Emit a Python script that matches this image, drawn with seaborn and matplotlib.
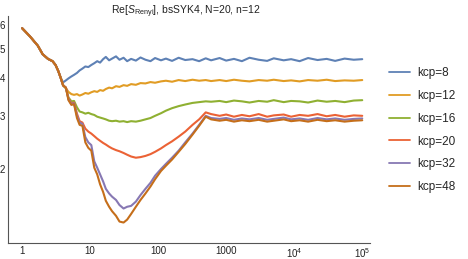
import pandas as pd
import matplotlib
matplotlib.use("Agg")
import matplotlib.pyplot as plt
import matplotlib.ticker as mticker
import seaborn as sns

# time grid
t = [1, 1.3, 1.7, 2, 2.4, 2.8, 3.1, 3.4, 3.7,
     4, 4.4, 4.8, 5.3, 5.8, 6.4, 7, 7.7, 8.5, 9.4, 10.4, 11.5, 12.7, 14, 15.5, 17, 19, 21, 24, 27, 31, 35,
     40, 47, 55, 65, 77, 90, 110, 130, 160, 200, 250, 320, 400, 500, 600,
     800, 1000, 1300, 1700, 2200, 3000, 4000, 5000, 7000, 9000, 12000, 16000, 22000, 30000, 40000, 55000, 75000, 100000]

# all curves share the same start
common = [5.85, 5.50, 5.12, 4.80, 4.63, 4.55, 4.42, 4.22, 4.00]

kcp8 = common + [3.87, 3.93, 3.99, 4.05, 4.10, 4.16, 4.24, 4.30, 4.37, 4.35, 4.42, 4.48, 4.55, 4.50, 4.62, 4.70, 4.58, 4.64, 4.72, 4.60, 4.67, 4.55,
                 4.63, 4.57, 4.68, 4.60, 4.55, 4.66, 4.58, 4.64, 4.56, 4.67, 4.59, 4.62, 4.55, 4.65, 4.58,
                 4.66, 4.57, 4.63, 4.55, 4.67, 4.60, 4.56, 4.65, 4.58, 4.62, 4.55, 4.66, 4.59, 4.63, 4.56, 4.64, 4.60, 4.62]
kcp12 = common + [3.80, 3.70, 3.60, 3.54, 3.52, 3.54, 3.50, 3.53, 3.57, 3.55, 3.59, 3.62, 3.60, 3.65, 3.63, 3.68, 3.72, 3.70, 3.76, 3.74, 3.79, 3.77,
                  3.82, 3.80, 3.85, 3.84, 3.88, 3.86, 3.90, 3.92, 3.89, 3.94, 3.91, 3.95, 3.92, 3.94, 3.91,
                  3.94, 3.91, 3.95, 3.92, 3.90, 3.94, 3.92, 3.95, 3.91, 3.93, 3.90, 3.94, 3.92, 3.95, 3.91, 3.93, 3.92, 3.94]
kcp16 = common + [3.78, 3.70, 3.45, 3.35, 3.36, 3.20, 3.10, 3.08, 3.05, 3.07, 3.04, 3.02, 2.98, 2.96, 2.94, 2.92, 2.89, 2.88, 2.89, 2.87, 2.88, 2.86,
                  2.88, 2.87, 2.89, 2.92, 2.95, 3.00, 3.06, 3.12, 3.18, 3.23, 3.27, 3.31, 3.33, 3.35, 3.34,
                  3.36, 3.33, 3.37, 3.35, 3.32, 3.36, 3.34, 3.38, 3.33, 3.36, 3.35, 3.32, 3.37, 3.34, 3.36, 3.33, 3.37, 3.38]
kcp20 = common + [3.78, 3.72, 3.42, 3.30, 3.32, 3.05, 2.88, 2.85, 2.72, 2.66, 2.62, 2.57, 2.52, 2.48, 2.44, 2.41, 2.37, 2.34, 2.31, 2.29, 2.26, 2.23,
                  2.20, 2.18, 2.19, 2.21, 2.24, 2.28, 2.34, 2.40, 2.47, 2.56, 2.66, 2.80, 2.92, 3.08, 3.04,
                  3.00, 3.03, 2.98, 3.02, 2.99, 3.04, 2.98, 3.01, 3.03, 2.98, 3.02, 3.00, 3.04, 2.99, 3.02, 2.98, 3.01, 3.00]
kcp32 = common + [3.78, 3.72, 3.40, 3.28, 3.30, 3.00, 2.85, 2.82, 2.55, 2.45, 2.40, 2.12, 2.02, 1.92, 1.82, 1.72, 1.66, 1.62, 1.58, 1.52, 1.48, 1.50,
                  1.51, 1.56, 1.64, 1.72, 1.80, 1.90, 2.00, 2.08, 2.18, 2.30, 2.45, 2.62, 2.80, 3.00, 2.95,
                  2.93, 2.95, 2.91, 2.94, 2.92, 2.95, 2.91, 2.93, 2.96, 2.92, 2.94, 2.91, 2.95, 2.92, 2.94, 2.91, 2.93, 2.94]
kcp48 = common + [3.78, 3.72, 3.38, 3.26, 3.28, 2.95, 2.80, 2.78, 2.45, 2.35, 2.30, 2.02, 1.92, 1.78, 1.68, 1.57, 1.50, 1.45, 1.40, 1.34, 1.33, 1.36,
                  1.42, 1.50, 1.58, 1.66, 1.75, 1.85, 1.97, 2.05, 2.15, 2.28, 2.42, 2.60, 2.78, 2.98, 2.92,
                  2.89, 2.91, 2.87, 2.90, 2.88, 2.91, 2.87, 2.89, 2.92, 2.88, 2.90, 2.87, 2.91, 2.88, 2.90, 2.87, 2.89, 2.90]

labels = ["kcp=8", "kcp=12", "kcp=16", "kcp=20", "kcp=32", "kcp=48"]
series = [kcp8, kcp12, kcp16, kcp20, kcp32, kcp48]
farben = ["#5E81B5", "#E19C24", "#8FB032", "#EB6235", "#8778B3", "#C56E1A"]

rows = []
for lab, ys in zip(labels, series):
    for tt, yy in zip(t, ys):
        rows.append({"t": tt, "S": yy, "kcp": lab})
df = pd.DataFrame(rows)

sns.set_style("white")
plt.rcParams['font.family'] = ['Liberation Sans', 'DejaVu Sans']
plt.rcParams['mathtext.fontset'] = 'custom'
plt.rcParams['mathtext.rm'] = 'Liberation Sans'
plt.rcParams['mathtext.it'] = 'Liberation Sans:italic'

fig = plt.figure(figsize=(4.68, 2.59), dpi=100)
W, H = 468, 259
ax = fig.add_axes([8 / W, 1 - 243 / H, 362 / W, 227 / H])

sns.lineplot(data=df, x="t", y="S", hue="kcp", hue_order=labels, palette=farben,
             estimator=None, sort=True, linewidth=1.5, ax=ax)

ax.set_xscale("log")
ax.set_yscale("log")
ax.set_xlim(0.62, 1.3e5)
ax.set_ylim(1.138, 6.42)

ax.xaxis.set_major_locator(mticker.FixedLocator([1, 10, 100, 1000, 1e4, 1e5]))
ax.xaxis.set_major_formatter(mticker.FixedFormatter(["1", "10", "100", "1000",
                                                     r"$\mathregular{10^4}$", r"$\mathregular{10^5}$"]))
ax.xaxis.set_minor_locator(mticker.LogLocator(base=10, subs=range(2, 10), numticks=20))
ax.xaxis.set_minor_formatter(mticker.NullFormatter())

ax.yaxis.set_major_locator(mticker.FixedLocator([2, 3, 4, 5, 6]))
ax.yaxis.set_major_formatter(mticker.FixedFormatter(["2", "3", "4", "5", "6"]))
ax.yaxis.set_minor_locator(mticker.FixedLocator([1.2, 1.4, 1.6, 1.8, 2.2, 2.4, 2.6, 2.8, 3.2, 3.4, 3.6, 3.8,
                                                 4.2, 4.4, 4.6, 4.8, 5.2, 5.4, 5.6, 5.8, 6.2, 6.4]))
ax.yaxis.set_minor_formatter(mticker.NullFormatter())

ax.tick_params(which="major", direction="in", length=4, width=0.6, color="#999999",
               labelsize=7, labelcolor="#222222", pad=2)
ax.tick_params(axis="x", which="major", pad=2.5)
ax.tick_params(which="minor", direction="in", length=2, width=0.5, color="#aaaaaa")
ax.set_xlabel("")
ax.set_ylabel("")
for s in ["top", "right"]:
    ax.spines[s].set_visible(False)
for s in ["left", "bottom"]:
    ax.spines[s].set_color("#555555")
    ax.spines[s].set_linewidth(0.8)

fig.text(186 / W, 1 - 12 / H, r"Re[$S_{\mathrm{Renyi}}$], bsSYK4, N=20, n=12",
         ha="center", va="center", fontsize=7.5, color="#222222")

sns.move_legend(ax, "upper left", bbox_to_anchor=((389 - 8) / 362, (243 - 67) / 227),
                frameon=False, title=None, fontsize=8.5, handlelength=1.8,
                handletextpad=0.6, labelspacing=0.92, borderpad=0, borderaxespad=0)
for line in ax.get_legend().get_lines():
    line.set_linewidth(1.3)

fig.savefig("out.png", dpi=100)
